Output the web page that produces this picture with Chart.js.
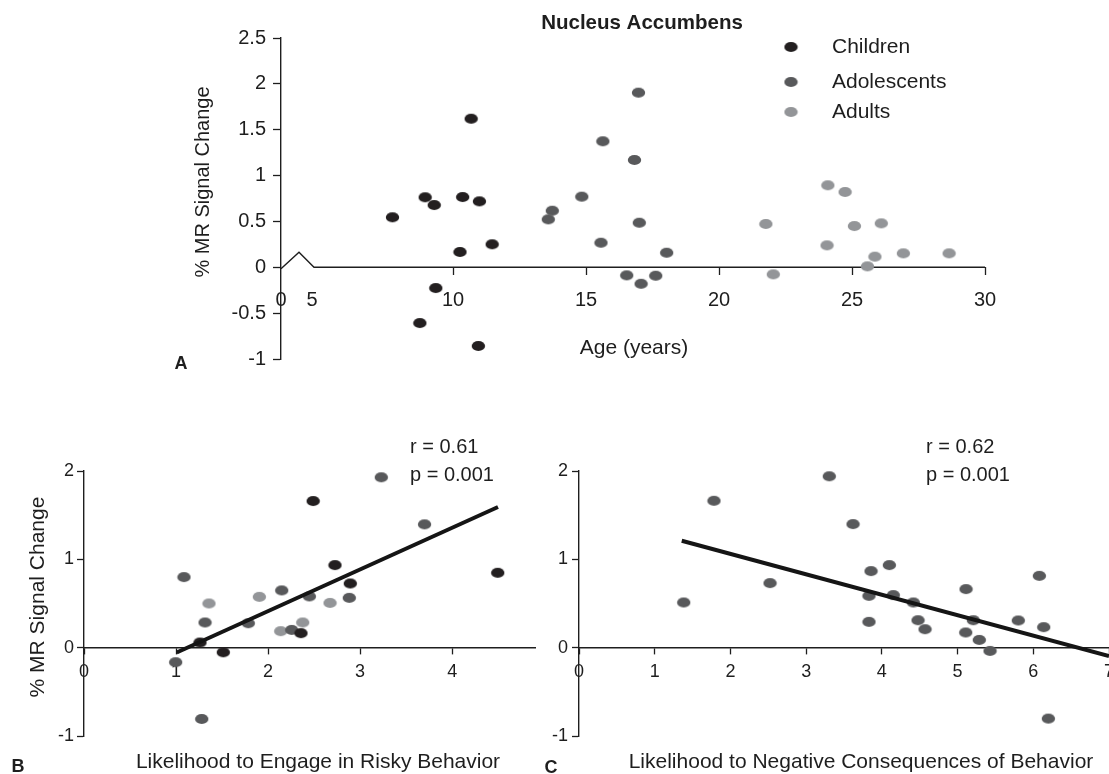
<!DOCTYPE html>
<html><head><meta charset="utf-8">
<script src="https://cdn.jsdelivr.net/npm/chart.js@4.4.1/dist/chart.umd.min.js"></script>
<style>
html,body{margin:0;padding:0;background:#fff;overflow:hidden;width:1109px;height:774px;}
canvas{position:absolute;left:0;top:0;}
</style></head><body>
<canvas id="cA" width="1109" height="774"></canvas>
<canvas id="cB" width="1109" height="774"></canvas>
<canvas id="cC" width="1109" height="774"></canvas>
<script>
// ---------- Panel A data: age vs % MR signal change ----------
const ageChildren = [7.72, 8.95, 9.29, 10.68, 10.36, 10.99, 10.26, 11.47, 9.35, 8.75, 10.95];
const nacChildren = [0.545, 0.763, 0.679, 1.62, 0.766, 0.719, 0.167, 0.251, -0.226, -0.608, -0.858];
const ageAdolescents = [13.58, 13.73, 14.84, 16.97, 15.63, 16.82, 17.0, 15.56, 18.03, 16.53, 17.07, 17.62];
const nacAdolescents = [0.523, 0.617, 0.770, 1.904, 1.374, 1.170, 0.486, 0.268, 0.159, -0.088, -0.180, -0.092];
const ageAdults = [24.09, 24.74, 21.76, 25.09, 26.10, 24.06, 25.86, 26.93, 28.65, 25.58, 22.04];
const nacAdults = [0.894, 0.821, 0.472, 0.450, 0.479, 0.239, 0.116, 0.152, 0.152, 0.010, -0.077];
const yTicksA = [-1, -0.5, 0, 0.5, 1, 1.5, 2, 2.5];
const xTickValsA = [3.53, 4.7, 10, 15, 20, 25, 30];      // broken axis: first two carry labels 0 and 5
const xTickLabelsA = ['0', '5', '10', '15', '20', '25', '30'];

// ---------- Panel B data: risky behaviour ----------
const riskChildren = [2.49, 2.727, 4.495, 2.893, 2.357, 1.26, 1.513];
const sigRiskChildren = [1.66, 0.935, 0.848, 0.727, 0.164, 0.058, -0.052];
const riskAdolescents = [3.23, 3.70, 1.086, 2.148, 2.448, 2.882, 1.315, 1.785, 2.257, 0.996, 1.279];
const sigRiskAdolescents = [1.929, 1.396, 0.799, 0.648, 0.580, 0.564, 0.285, 0.277, 0.201, -0.165, -0.807];
const riskAdults = [1.905, 2.673, 1.358, 2.376, 2.137];
const sigRiskAdults = [0.575, 0.507, 0.500, 0.285, 0.187];
const fitBX = [1.007, 4.498];
const fitBY = [-0.055, 1.592];
const xTicksB = [0, 1, 2, 3, 4];

// ---------- Panel C data: negative consequences ----------
const negC = [1.783, 3.306, 1.383, 2.523, 3.619, 3.857, 4.099, 3.830, 4.151, 4.416, 3.830, 4.478, 4.570, 5.112, 5.208, 5.108, 5.287, 5.429, 5.802, 6.080, 6.138, 6.199];
const sigNegC = [1.663, 1.94, 0.512, 0.731, 1.399, 0.867, 0.935, 0.587, 0.595, 0.512, 0.292, 0.311, 0.209, 0.663, 0.311, 0.172, 0.088, -0.037, 0.308, 0.813, 0.232, -0.803];
const fitCX = [1.357, 7.0];
const fitCY = [1.21, -0.094];
const xTicksC = [0, 1, 2, 3, 4, 5, 6, 7];
const yTicksBC = [-1, 0, 1, 2];

// ---------- styling ----------
const FONT = "'Liberation Sans', Arial, Helvetica, sans-serif";
const INK = '#1e1e1e';
const colChild = '#231f20', colAdol = '#58595b', colAdult = '#939598';

function ellipse(color) {
  const c = document.createElement('canvas');
  c.width = 15; c.height = 12;
  const g = c.getContext('2d');
  g.fillStyle = color;
  g.beginPath(); g.ellipse(7.5, 6, 6.7, 5.1, 0, 0, Math.PI * 2); g.fill();
  return c;
}
const mkChild = ellipse(colChild), mkAdol = ellipse(colAdol), mkAdult = ellipse(colAdult);

function pts(xs, ys) { return xs.map((x, i) => ({x: x, y: ys[i]})); }
function scatterSet(label, xs, ys, marker, color) {
  return {type: 'scatter', label: label, data: pts(xs, ys), pointStyle: marker, pointRadius: 6,
    backgroundColor: color, borderColor: color, order: 1};
}
function fitSet(xs, ys) {
  return {type: 'line', label: 'fit', data: pts(xs, ys), borderColor: '#151515', borderWidth: 4,
    pointRadius: 0, fill: false, order: 0, tension: 0, borderCapStyle: 'butt'};
}
function text(ctx, s, x, y, size, opts) {
  opts = opts || {};
  ctx.save();
  ctx.font = (opts.bold ? 'bold ' : '') + size + 'px ' + FONT;
  ctx.fillStyle = opts.color || INK;
  ctx.textAlign = opts.align || 'left';
  ctx.textBaseline = 'middle';
  ctx.translate(x, y);
  if (opts.rot) ctx.rotate(opts.rot);
  ctx.fillText(s, 0, 0);
  ctx.restore();
}
function yScale(min, max, ticks, yw, tl, pad, size) {
  return {
    type: 'linear', position: 'left', min: min, max: max,
    afterBuildTicks: s => { s.ticks = ticks.map(v => ({value: v})); },
    afterFit: s => { s.width = yw; s.paddingTop = 0; s.paddingBottom = 0; s.paddingLeft = 0; s.paddingRight = 0; },
    grid: {display: true, drawOnChartArea: false, drawTicks: true, tickLength: tl, tickColor: INK, tickWidth: 1.3, color: INK},
    border: {display: true, color: INK, width: 1.4},
    ticks: {color: INK, padding: pad, font: {family: FONT, size: size}, callback: v => String(v)}
  };
}
function xScale(min, max, ticks, labels, tl, pad, size, hideFirst, border) {
  return {
    type: 'linear', position: {y: 0}, min: min, max: max,
    afterBuildTicks: s => { s.ticks = ticks.map(v => ({value: v})); },
    afterFit: s => { s.paddingLeft = 0; s.paddingRight = 0; s.paddingTop = 0; s.paddingBottom = 0; },
    grid: {display: true, drawOnChartArea: false, drawTicks: true, tickLength: tl, tickWidth: 1.3, color: INK,
      tickColor: c => (c.index < hideFirst ? 'rgba(0,0,0,0)' : INK)},
    border: {display: border, color: INK, width: 1.4},
    ticks: {color: INK, padding: pad, autoSkip: false, maxRotation: 0, font: {family: FONT, size: size},
      callback: (v, i) => labels[i]}
  };
}
const common = {
  responsive: false, maintainAspectRatio: false, animation: false, devicePixelRatio: 1,
  plugins: {legend: {display: false}, tooltip: {enabled: false}, title: {display: false}},
  events: []
};

// ---------- Panel A ----------
const setsA = [
  scatterSet('Children', ageChildren, nacChildren, mkChild, colChild),
  scatterSet('Adolescents', ageAdolescents, nacAdolescents, mkAdol, colAdol),
  scatterSet('Adults', ageAdults, nacAdults, mkAdult, colAdult)
];
const markersA = [mkChild, mkAdol, mkAdult];
new Chart(document.getElementById('cA'), {
  type: 'scatter',
  data: {datasets: setsA},
  options: Object.assign({}, common, {
    layout: {autoPadding: false, padding: {left: 231, right: 124, top: 38, bottom: 415}},
    scales: {
      x: xScale(xTickValsA[0], 30, xTickValsA, xTickLabelsA, 8, 13, 20, 2, false),
      y: yScale(-1, 2.5, yTicksA, 50, 8, 7, 20)
    }
  }),
  plugins: [{
    id: 'panelA',
    beforeDatasetsDraw(chart) {
      const ctx = chart.ctx, ca = chart.chartArea;
      const y0 = chart.scales.y.getPixelForValue(0);
      ctx.save();
      ctx.strokeStyle = INK; ctx.lineWidth = 1.4;
      ctx.beginPath();
      ctx.moveTo(ca.left, y0 + 1.5);
      ctx.lineTo(ca.left + 18, y0 - 15);
      ctx.lineTo(ca.left + 33, y0);
      ctx.lineTo(ca.right, y0);
      ctx.stroke();
      ctx.restore();
    },
    afterDraw(chart) {
      const ctx = chart.ctx;
      text(ctx, 'Nucleus Accumbens', 642, 23, 20.5, {bold: true, align: 'center'});
      const ly = [47, 82, 112];
      chart.data.datasets.forEach((d, i) => {
        const m = markersA[i];
        ctx.drawImage(m, 791 - m.width / 2, ly[i] - m.height / 2);
        text(ctx, d.label, 832, ly[i], 21);
      });
      text(ctx, '% MR Signal Change', 203, 182, 20, {align: 'center', rot: -Math.PI / 2});
      text(ctx, 'Age (years)', 634, 348, 21, {align: 'center'});
      text(ctx, 'A', 181, 364, 18, {bold: true, align: 'center'});
    }
  }]
});

// ---------- Panel B ----------
new Chart(document.getElementById('cB'), {
  type: 'scatter',
  data: {datasets: [
    fitSet(fitBX, fitBY),
    scatterSet('Children', riskChildren, sigRiskChildren, mkChild, colChild),
    scatterSet('Adolescents', riskAdolescents, sigRiskAdolescents, mkAdol, colAdol),
    scatterSet('Adults', riskAdults, sigRiskAdults, mkAdult, colAdult)
  ]},
  options: Object.assign({}, common, {
    layout: {autoPadding: false, padding: {left: 44, right: 574, top: 471, bottom: 38}},
    scales: {
      x: xScale(0, 4.9, xTicksB, xTicksB.map(String), 6, 8, 18, 0, true),
      y: yScale(-1, 2, yTicksBC, 40, 7, 3, 18)
    }
  }),
  plugins: [{
    id: 'panelB',
    afterDraw(chart) {
      const ctx = chart.ctx;
      text(ctx, 'r = 0.61', 410, 447, 20);
      text(ctx, 'p = 0.001', 410, 475, 20);
      text(ctx, '% MR Signal Change', 38, 597, 21, {align: 'center', rot: -Math.PI / 2});
      text(ctx, 'Likelihood to Engage in Risky Behavior', 318, 762, 21, {align: 'center'});
      text(ctx, 'B', 18, 767, 18, {bold: true, align: 'center'});
    }
  }]
});

// ---------- Panel C ----------
new Chart(document.getElementById('cC'), {
  type: 'scatter',
  data: {datasets: [
    fitSet(fitCX, fitCY),
    scatterSet('All participants', negC, sigNegC, mkAdol, colAdol)
  ]},
  options: Object.assign({}, common, {
    layout: {autoPadding: false, padding: {left: 539, right: 0, top: 471, bottom: 38}},
    scales: {
      x: xScale(0, 7, xTicksC, xTicksC.map(String), 6, 8, 18, 0, true),
      y: yScale(-1, 2, yTicksBC, 40, 7, 4, 18)
    }
  }),
  plugins: [{
    id: 'panelC',
    afterDraw(chart) {
      const ctx = chart.ctx;
      text(ctx, 'r = 0.62', 926, 447, 20);
      text(ctx, 'p = 0.001', 926, 475, 20);
      text(ctx, 'Likelihood to Negative Consequences of Behavior', 861, 762, 21, {align: 'center'});
      text(ctx, 'C', 551, 768, 18, {bold: true, align: 'center'});
    }
  }]
});
</script>
</body></html>
